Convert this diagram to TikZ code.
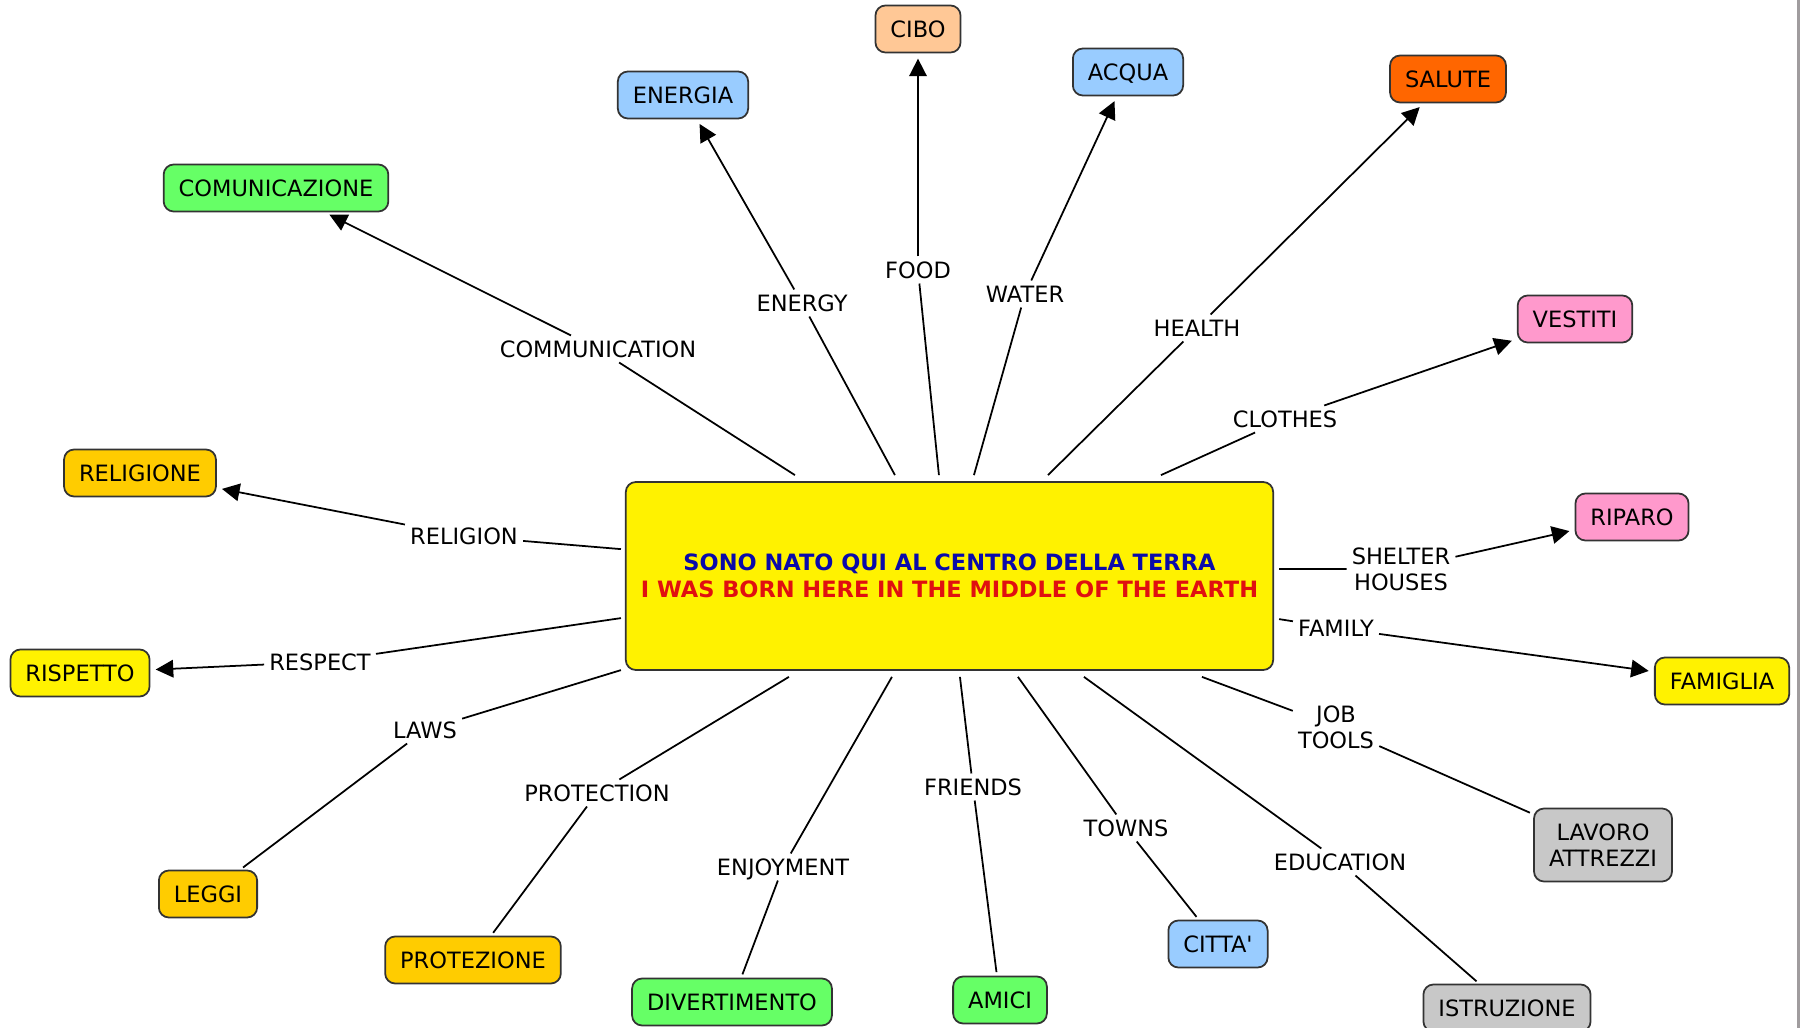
\documentclass[tikz,border=0pt]{standalone}
\usepackage{fontspec}
\setmainfont{DejaVu Sans}
\usetikzlibrary{arrows.meta}

\definecolor{cgreen}{HTML}{66FF66}
\definecolor{cblue}{HTML}{99CCFF}
\definecolor{cpeach}{HTML}{FFC896}
\definecolor{corange}{HTML}{FF6600}
\definecolor{cpink}{HTML}{FF99CC}
\definecolor{cgold}{HTML}{FFCC00}
\definecolor{cgray}{HTML}{C8C8C8}
\definecolor{hubblue}{HTML}{0A0AAA}
\definecolor{hubred}{HTML}{E01010}
\definecolor{framegray}{HTML}{A09C9E}

\begin{document}
\begin{tikzpicture}[auto, x=0.2mm, y=-0.2mm, line width=1pt,
                    >={Triangle[length=10pt,width=10pt]},
                    main node/.style={rounded corners=2mm,draw=black!80,minimum height=9.4mm,
                                      inner xsep=3mm,inner ysep=0pt,text height=9.4pt,text depth=0pt,
                                      font=\fontsize{12.8}{15}\selectfont},
                    link node/.style={inner sep=2.5pt,text height=9.4pt,text depth=0pt,
                                      font=\fontsize{12.8}{15}\selectfont},
                    two lines/.style={align=center,text height=,text depth=}]

  \useasboundingbox (0,0) rectangle (1800,1028);
  \fill[framegray] (1797,0) rectangle (1800,1028);

  \node[main node,fill=yellow,minimum width=129.4mm,minimum height=37.6mm,two lines,
        font=\bfseries\fontsize{12.8}{15.4}\selectfont] (0) at (949.5,576)
        {\textcolor{hubblue}{SONO NATO QUI AL CENTRO DELLA TERRA}\\
         \textcolor{hubred}{I WAS BORN HERE IN THE MIDDLE OF THE EARTH}};

  \node[main node,fill=cgreen]  (1)  at (276,188)  {COMUNICAZIONE};
  \node[main node,fill=cblue]   (2)  at (683,95)   {ENERGIA};
  \node[main node,fill=cpeach]  (3)  at (918,29)   {CIBO};
  \node[main node,fill=cblue]   (4)  at (1128,72)  {ACQUA};
  \node[main node,fill=corange] (5)  at (1448,79)  {SALUTE};
  \node[main node,fill=cpink]   (6)  at (1575,319) {VESTITI};
  \node[main node,fill=cgold]   (7)  at (140,473)  {RELIGIONE};
  \node[main node,fill=cpink]   (8)  at (1632,517) {RIPARO};
  \node[main node,fill=yellow]  (9)  at (80,673)   {RISPETTO};
  \node[main node,fill=yellow]  (10) at (1722,681) {FAMIGLIA};
  \node[main node,fill=cgold]   (11) at (208,894)  {LEGGI};
  \node[main node,fill=cgold]   (12) at (473,960)  {PROTEZIONE};
  \node[main node,fill=cgreen]  (13) at (732,1002) {DIVERTIMENTO};
  \node[main node,fill=cgreen]  (14) at (1000,1000) {AMICI};
  \node[main node,fill=cblue]   (15) at (1218,944) {CITTA\textquotesingle};
  \node[main node,fill=cgray]   (16) at (1507,1008) {ISTRUZIONE};
  \node[main node,fill=cgray,two lines,minimum height=14.6mm] (17) at (1603,845) {LAVORO\\ATTREZZI};

  \node[link node] (L1)  at (598,349)  {COMMUNICATION};
  \node[link node] (L2)  at (802,303)  {ENERGY};
  \node[link node] (L3)  at (918,270)  {FOOD};
  \node[link node] (L4)  at (1025,294) {WATER};
  \node[link node] (L5)  at (1197,328) {HEALTH};
  \node[link node] (L6)  at (1285,419) {CLOTHES};
  \node[link node] (L7)  at (464,536)  {RELIGION};
  \node[link node,two lines] (L8) at (1401,569) {SHELTER\\HOUSES};
  \node[link node] (L9)  at (320,662)  {RESPECT};
  \node[link node] (L10) at (1336,628) {FAMILY};
  \node[link node] (L11) at (425,730)  {LAWS};
  \node[link node] (L12) at (597,793)  {PROTECTION};
  \node[link node] (L13) at (783,867)  {ENJOYMENT};
  \node[link node] (L14) at (973,787)  {FRIENDS};
  \node[link node] (L15) at (1126,828) {TOWNS};
  \node[link node] (L16) at (1340,862) {EDUCATION};
  \node[link node,two lines] (L17) at (1336,727) {JOB\\TOOLS};

  % where the links leave the central box
  \coordinate (p1)  at ([shift={(170,-6)}]0.north west);
  \coordinate (p2)  at ([shift={(270,-6)}]0.north west);
  \coordinate (p3)  at ([shift={(314,-6)}]0.north west);
  \coordinate (p4)  at ([shift={(349,-6)}]0.north west);
  \coordinate (p5)  at ([shift={(423,-6)}]0.north west);
  \coordinate (p6)  at ([shift={(536,-6)}]0.north west);
  \coordinate (p7)  at ([shift={(-4,68)}]0.north west);
  \coordinate (p8)  at ([shift={(5,88)}]0.north east);
  \coordinate (p9)  at ([shift={(-4,137)}]0.north west);
  \coordinate (p10) at ([shift={(5,138)}]0.north east);
  \coordinate (p11) at ([shift={(-4,189)}]0.north west);
  \coordinate (p12) at ([shift={(164,6)}]0.south west);
  \coordinate (p13) at ([shift={(267,6)}]0.south west);
  \coordinate (p14) at ([shift={(335,6)}]0.south west);
  \coordinate (p15) at ([shift={(393,6)}]0.south west);
  \coordinate (p16) at ([shift={(459,6)}]0.south west);
  \coordinate (p17) at ([shift={(577,6)}]0.south west);

\path[every edge/.style={draw,line width=1pt}]

    (p1) edge (L1)  (L1) edge[->,shorten >=3pt] (1)
    (p2) edge (L2)  (L2) edge[->,shorten >=3pt] (2)
    (p3) edge (L3)  (L3) edge[->,shorten >=3pt] (3)
    (p4) edge (L4)  (L4) edge[->,shorten >=3pt] (4)
    (p5) edge (L5)  (L5) edge[->,shorten >=3pt] (5)
    (p6) edge (L6)  (L6) edge[->,shorten >=3pt] (6)
    (p7) edge (L7)  (L7) edge[->,shorten >=3pt] (7)
    (p8) edge (L8)  (L8) edge[->,shorten >=3pt] (8)
    (p9) edge (L9)  (L9) edge[->,shorten >=3pt] (9)
    (p10) edge (L10)  (L10) edge[->,shorten >=3pt] (10)

    (p11) edge (L11)  (L11) edge[shorten >=2pt] (11)
    (p12) edge (L12)  (L12) edge[shorten >=2pt] (12)
    (p13) edge (L13)  (L13) edge[shorten >=2pt] (13)
    (p14) edge (L14)  (L14) edge[shorten >=2pt] (14)
    (p15) edge (L15)  (L15) edge[shorten >=2pt] (15)
    (p16) edge (L16)  (L16) edge[shorten >=2pt] (16)
    (p17) edge (L17)  (L17) edge[shorten >=2pt] (17);

\end{tikzpicture}
\end{document}
